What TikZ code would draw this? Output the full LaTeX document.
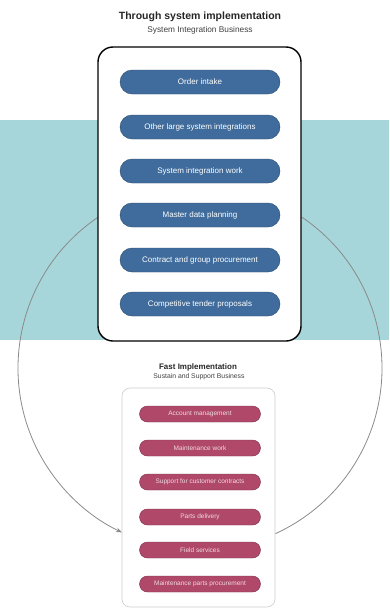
\documentclass[tikz,border=0pt]{standalone}
\usepackage{fontspec}
\setmainfont{Liberation Sans}
\usetikzlibrary{arrows.meta}
\definecolor{bandteal}{HTML}{A6D6DA}
\definecolor{pillblue}{HTML}{3F6C9C}
\definecolor{pillred}{HTML}{B0486A}
\definecolor{arcgray}{HTML}{8A8A8A}
\tikzset{
  bluepill/.style={draw=pillblue!70!black, fill=pillblue, rounded corners=12pt,
    minimum width=160pt, minimum height=24pt, text=white, font=\fontsize{8}{9}\selectfont, inner sep=0pt},
  redpill/.style={draw=pillred!70!black, fill=pillred, rounded corners=8pt,
    minimum width=121pt, minimum height=16pt, text=white!80!pillred, font=\fontsize{6.5}{7}\selectfont, inner sep=0pt},
  bigframe/.style={draw=black, line width=1.4pt, fill=white, rounded corners=15pt},
  smallframe/.style={draw=gray!40, line width=0.6pt, fill=white, rounded corners=8pt},
  headline/.style={font=\bfseries\fontsize{10.5}{12}\selectfont, text=black!85},
  subline/.style={font=\fontsize{8.3}{9}\selectfont, text=black!75},
  cycle/.style={draw=arcgray, line width=0.8pt}
}
\begin{document}
\begin{tikzpicture}[x=1pt,y=-1pt]
\useasboundingbox (0,0) rectangle (389,613);
% teal band behind the upper block
\fill[bandteal] (0,120) rectangle (389,340);

% cycle arcs around a common centre
\coordinate (ctr) at (200,368);
\coordinate (arcL) at ([shift={(-124:182)}]ctr);
\coordinate (arcR) at ([shift={(-56:182)}]ctr);
\draw[cycle, -{Stealth[length=6pt,width=4.5pt]}] (arcL) arc[start angle=-124, end angle=-244.6, radius=182];
\draw[cycle] (arcR) arc[start angle=-56, end angle=65.7, radius=182];

% upper block
\node[headline] (t1) at (200,17) {Through system implementation};
\node[subline] (s1) at (200,30) {System Integration Business};
\node[bigframe, minimum width=203pt, minimum height=294pt] (big) at (199.5,194) {};
\node[bluepill] (b1) at (200,82) {Order intake};
\node[bluepill] (b2) at (200,127) {Other large system integrations};
\node[bluepill] (b3) at (200,171) {System integration work};
\node[bluepill] (b4) at (200,215) {Master data planning};
\node[bluepill] (b5) at (200,260) {Contract and group procurement};
\node[bluepill] (b6) at (200,304) {Competitive tender proposals};

% lower block
\node[headline, font=\bfseries\fontsize{8}{9}\selectfont] (t2) at (198,367) {Fast Implementation};
\node[subline, font=\fontsize{6.8}{7}\selectfont] (s2) at (199,377) {Sustain and Support Business};
\node[smallframe, minimum width=153pt, minimum height=219pt] (small) at (198.5,497.5) {};
\node[redpill] (r1) at (200,414) {Account management};
\node[redpill] (r2) at (200,448) {Maintenance work};
\node[redpill] (r3) at (200,482) {Support for customer contracts};
\node[redpill] (r4) at (200,517) {Parts delivery};
\node[redpill] (r5) at (200,550) {Field services};
\node[redpill] (r6) at (200,584) {Maintenance parts procurement};
\end{tikzpicture}
\end{document}
